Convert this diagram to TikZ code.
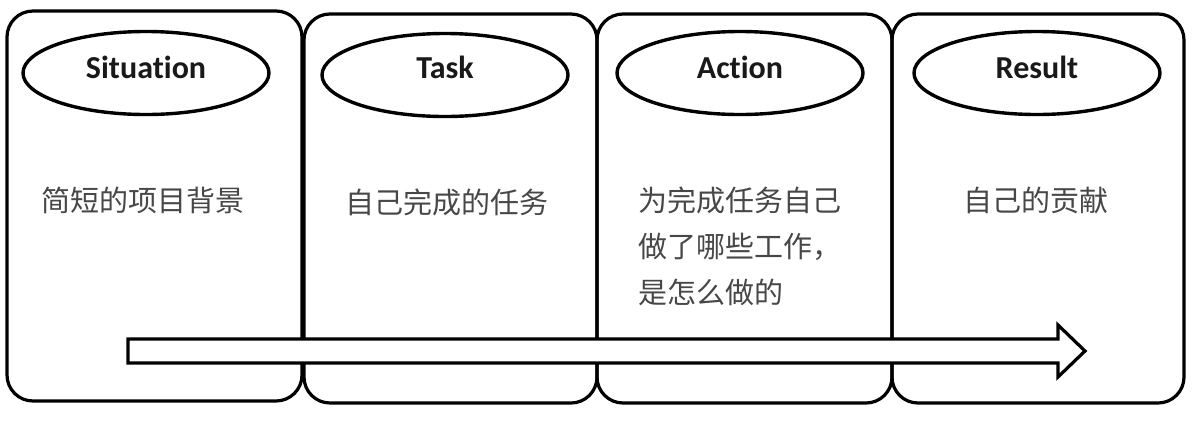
\documentclass[tikz,border=0pt]{standalone}
\usepackage{fontspec}
\setmainfont{Carlito}[Ligatures={NoCommon}]
\newfontfamily\cjk{Noto Sans CJK SC}
\usetikzlibrary{shapes.geometric}
\begin{document}
\begin{tikzpicture}[x=1pt,y=-1pt,
 card/.style={draw, line width=3.2pt, rounded corners=26pt, inner sep=0pt},
 oval/.style={ellipse, draw, line width=3.4pt, minimum width=246pt, minimum height=83pt, inner sep=0pt},
 head/.style={font=\fontsize{32}{36}\selectfont\bfseries, text=black!90, inner sep=0pt},
 body/.style={font=\cjk\fontsize{29}{46}\selectfont, text=black!72, align=left, inner sep=0pt},
 flow/.style={draw, fill=white, line width=3.2pt, line join=miter}]
\useasboundingbox (0,0) rectangle (1193,421);
\fill[white] (0,0) rectangle (1193,421);
% cards
\node[card, minimum width=295pt, minimum height=390pt] (c1) at (154.5,206) {};
\node[card, minimum width=293pt, minimum height=389pt] (c2) at (450.5,208.5) {};
\node[card, minimum width=295pt, minimum height=389pt] (c3) at (744.5,208.5) {};
\node[card, minimum width=292pt, minimum height=389pt] (c4) at (1038,208.5) {};
% ovals
\node[oval] (e1) at (146,73) {};
\node[oval] (e2) at (445,75) {};
\node[oval] (e3) at (740,73) {};
\node[oval] (e4) at (1037,73) {};
\node[head] (h1) at (146,67) {Situation};
\node[head] (h2) at (445,67) {Task};
\node[head] (h3) at (740,67) {Action};
\node[head] (h4) at (1037,67) {Result};
% texts
\node[body, anchor=west] (t1) at (41,200) {简短的项目背景};
\node[body, anchor=west] (t2) at (345,202) {自己完成的任务};
\node[body, anchor=north west] (t3) at (638,187) {为完成任务自己\\做了哪些工作，\\是怎么做的};
\node[body, anchor=west] (t4) at (963,200) {自己的贡献};
% arrow
\coordinate (as) at (128,351);
\coordinate (ae) at (1085,351);
\draw[flow] ([yshift=-12pt]as) -- ([xshift=-27pt,yshift=-12pt]ae) -- ([xshift=-27pt,yshift=-26pt]ae)
  -- (ae) -- ([xshift=-27pt,yshift=26pt]ae) -- ([xshift=-27pt,yshift=12pt]ae) -- ([yshift=12pt]as) -- cycle;
\end{tikzpicture}
\end{document}
